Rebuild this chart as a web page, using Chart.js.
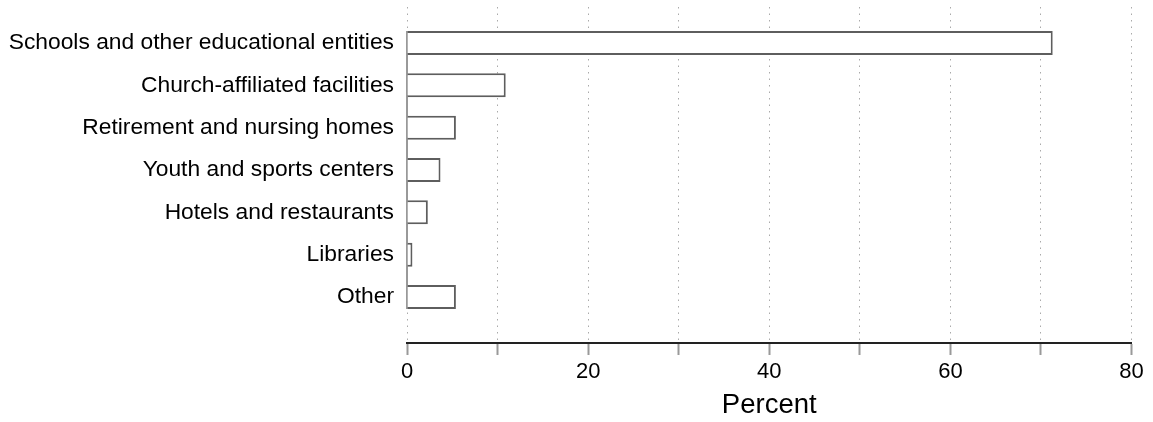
<!DOCTYPE html>
<html>
<head>
<meta charset="utf-8">
<script src="https://cdn.jsdelivr.net/npm/chart.js@4/dist/chart.umd.min.js"></script>
<style>
  html, body { margin: 0; padding: 0; background: #fff; }
  #wrap { width: 1153px; height: 422px; }
</style>
</head>
<body>
<div id="wrap"><canvas id="chart-area"></canvas></div>
<script>
var categories = [
	'Schools and other educational entities',
	'Church-affiliated facilities',
	'Retirement and nursing homes',
	'Youth and sports centers',
	'Hotels and restaurants',
	'Libraries',
	'Other'
];
var percents = [71.3, 10.9, 5.4, 3.7, 2.3, 0.6, 5.4];
var xTicks = [0, 20, 40, 60, 80];

var fontFamily = '"Liberation Sans", Arial, Helvetica, sans-serif';

// solid grey axis segment spanning only the bars (as in the original)
var barSpine = {
	id : 'barSpine',
	beforeDatasetsDraw : function(chart) {
		var meta = chart.getDatasetMeta(0);
		var first = meta.data[0], last = meta.data[meta.data.length - 1];
		var x = chart.scales.x.getPixelForValue(0);
		var ctx = chart.ctx;
		ctx.save();
		ctx.strokeStyle = '#999';
		ctx.lineWidth = 2;
		ctx.beginPath();
		ctx.moveTo(x, first.y - first.height / 2);
		ctx.lineTo(x, last.y + last.height / 2);
		ctx.stroke();
		ctx.restore();
	}
};

var myBar = new Chart(document.getElementById('chart-area'), {
	type : 'bar',
	data : {
		datasets : [ {
			data : percents.map(function(v, i) { return { x : v, y : i }; }),
			backgroundColor : '#ffffff',
			borderColor : '#5e5e5e',
			borderWidth : 2,
			categoryPercentage : 1,
			barPercentage : 0.567
		} ]
	},
	plugins : [ barSpine ],
	options : {
		indexAxis : 'y',
		responsive : true,
		maintainAspectRatio : false,
		animation : false,
		layout : {
			padding : { top : 7, right : 21.5, left : 0, bottom : 0 }
		},
		plugins : {
			legend : { display : false },
			tooltip : { enabled : false }
		},
		scales : {
			x : {
				type : 'linear',
				min : 0,
				max : 80,
				afterFit : function(scale) {
					scale.height = 79;
					scale.paddingLeft = 0;
					scale.paddingRight = 0;
				},
				ticks : {
					stepSize : 10,
					autoSkip : false,
					maxRotation : 0,
					padding : 4,
					color : '#000',
					font : { family : fontFamily, size : 22 },
					callback : function(v) {
						return xTicks.indexOf(v) >= 0 ? String(v) : '';
					}
				},
				grid : {
					color : '#aaaaaa',
					lineWidth : 1,
					drawTicks : true,
					tickLength : 12,
					tickColor : '#999999',
					tickWidth : 2
				},
				border : {
					display : true,
					color : '#222222',
					width : 2,
					dash : [ 1.5, 5 ]
				},
				title : {
					display : true,
					text : 'Percent',
					color : '#000',
					padding : { top : 0, bottom : 0 },
					font : { family : fontFamily, size : 27.5 }
				}
			},
			y : {
				type : 'linear',
				reverse : true,
				offset : false,
				min : -0.85,
				max : 7.087,
				afterFit : function(scale) {
					scale.width = 407;
					scale.paddingTop = 0;
					scale.paddingBottom = 0;
				},
				grid : { display : false, drawTicks : false, tickLength : 0, offset : false },
				border : { display : false },
				ticks : {
					stepSize : 1,
					autoSkip : false,
					includeBounds : false,
					padding : 13,
					color : '#000',
					font : { family : fontFamily, size : 22.8 },
					callback : function(v) {
						return Number.isInteger(v) && categories[v] !== undefined ? categories[v] : '';
					}
				}
			}
		}
	}
});
</script>
</body>
</html>
